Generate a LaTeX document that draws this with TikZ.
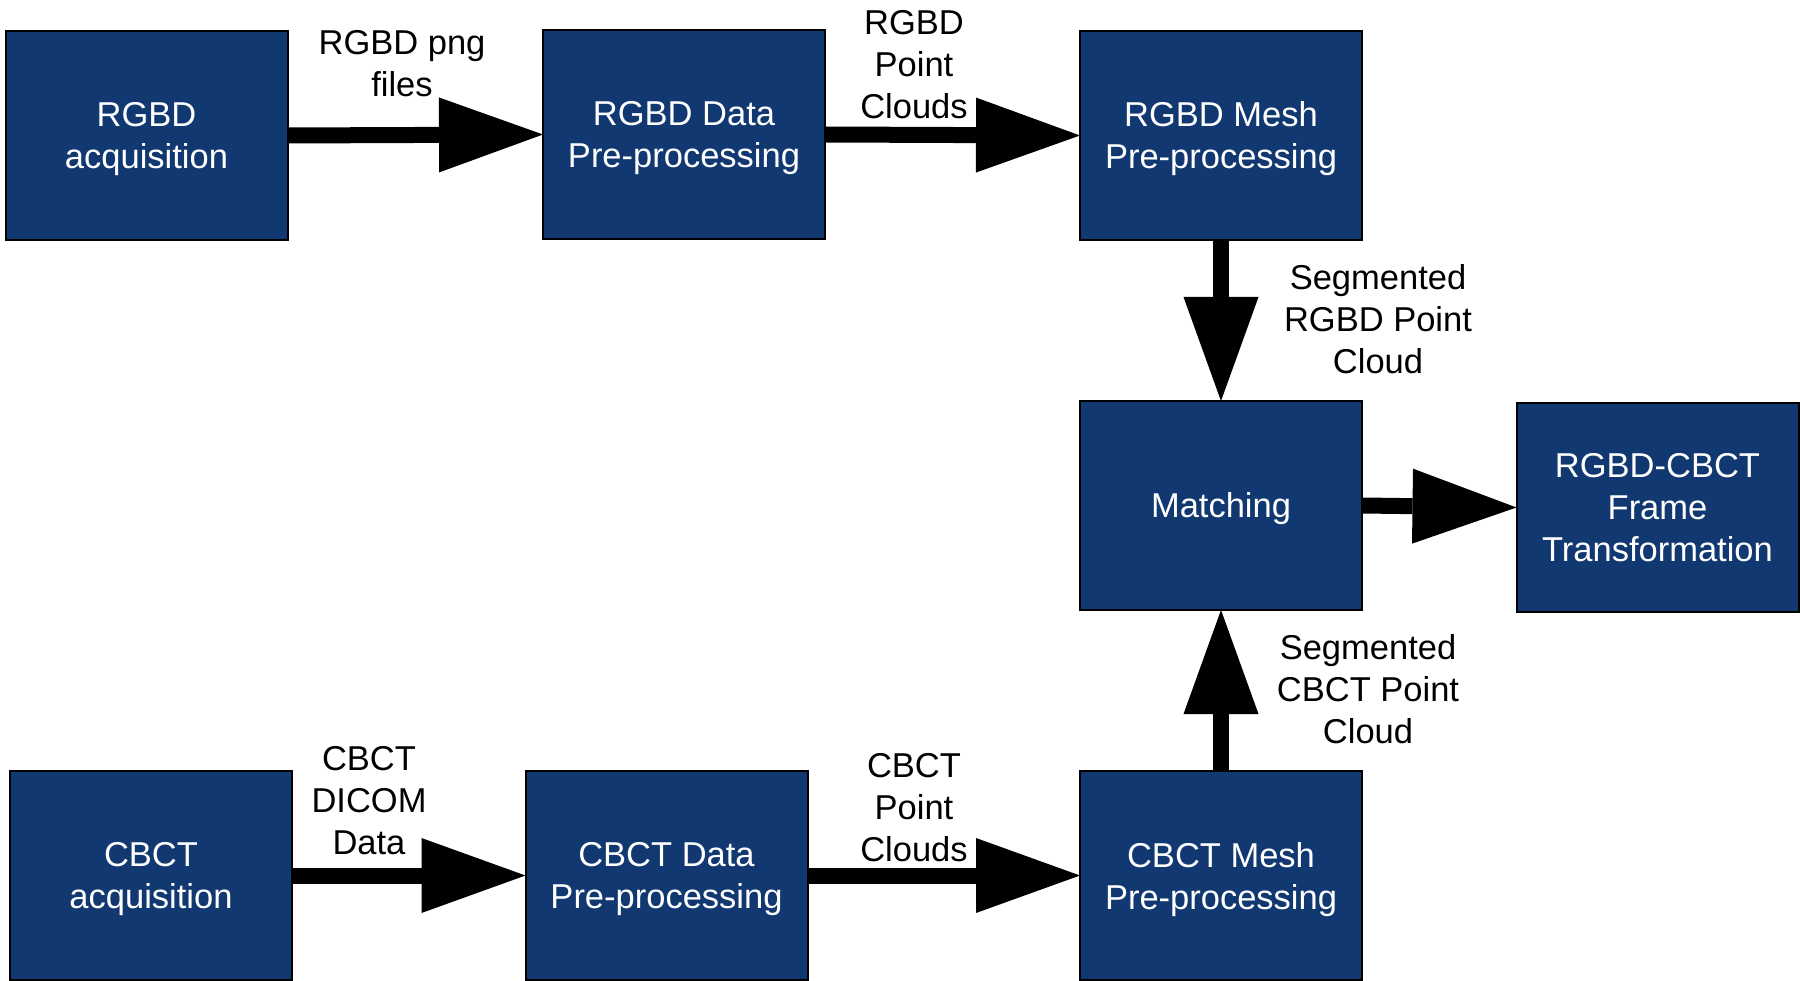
\documentclass[tikz,border=0pt]{standalone}
\usepackage{fontspec}
\setmainfont{Liberation Sans}
\usetikzlibrary{arrows.meta}

\definecolor{boxblue}{RGB}{17,56,112}

\begin{document}
\begin{tikzpicture}[x=1pt, y=-1pt,
    block/.style={draw=black, line width=2pt, fill=boxblue, text=white,
        minimum width=282pt, minimum height=209pt, inner sep=0pt, outer sep=0pt,
        text depth=0pt, align=center, font=\fontsize{34.5}{42}\selectfont},
    flow/.style={line width=16pt, -{Triangle[length=104pt, width=75pt, line width=0pt]}},
    lbl/.style={align=center, font=\fontsize{34.5}{42}\selectfont}]
    \useasboundingbox (0,0) rectangle (1800,981);

    % Draw blocks
    \node[block] (acqR) at (146.5,135.5) {RGBD\\acquisition};
    \node[block] (dataR) at (684,134.5) {RGBD Data\\Pre-processing};
    \node[block] (meshR) at (1221,135.5) {RGBD Mesh\\Pre-processing};
    \node[block] (match) at (1221,505.5) {Matching};
    \node[block] (frame) at (1657.5,507.5) {RGBD-CBCT\\Frame\\Transformation};
    \node[block] (acqC) at (151,875.5) {CBCT\\acquisition};
    \node[block] (dataC) at (666.5,875.5) {CBCT Data\\Pre-processing};
    \node[block] (meshC) at (1221,875.5) {CBCT Mesh\\Pre-processing};

    % Draw arrows
    \draw[flow] (acqR.east) -- (dataR.west);
    \draw[flow] (dataR.east) -- (meshR.west);
    \draw[flow] (meshR.south) -- (match.north);
    \draw[flow] (match.east) -- (frame.west);
    \draw[flow] (acqC.east) -- (dataC.west);
    \draw[flow] (dataC.east) -- (meshC.west);
    \draw[flow] (meshC.north) -- (match.south);

    % Labels for arrows
    \node[lbl] (lpng) at (402,63.5) {RGBD png\\files};
    \node[lbl] (lcloudR) at (914,64.5) {RGBD\\Point\\Clouds};
    \node[lbl] (lsegR) at (1378,319) {Segmented\\RGBD Point\\Cloud};
    \node[lbl] (lsegC) at (1368,689) {Segmented\\CBCT Point\\Cloud};
    \node[lbl] (ldicom) at (369,801) {CBCT\\DICOM\\Data};
    \node[lbl] (lcloudC) at (914,808) {CBCT\\Point\\Clouds};
\end{tikzpicture}
\end{document}
